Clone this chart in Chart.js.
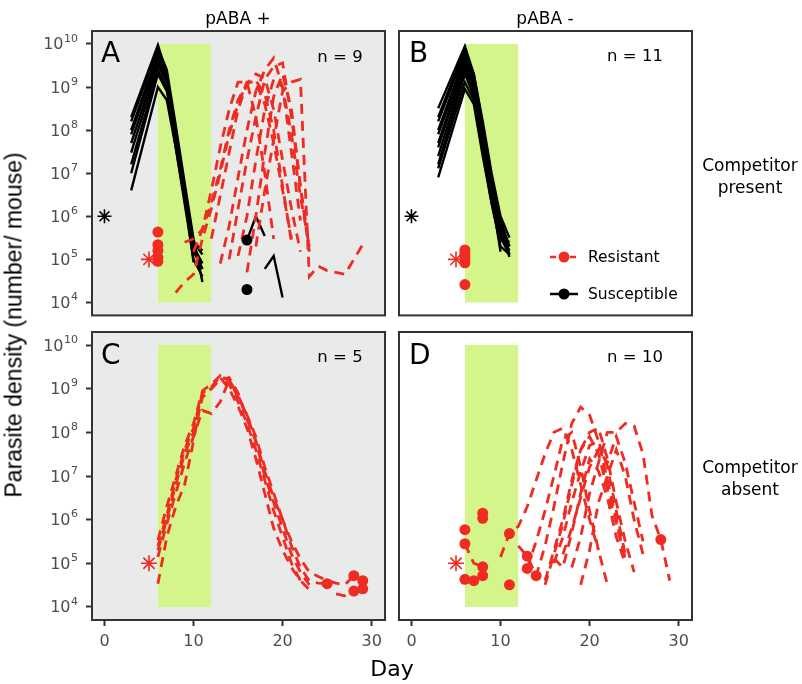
<!DOCTYPE html>
<html>
<head>
<meta charset="utf-8">
<script src="https://cdn.jsdelivr.net/npm/chart.js@4.4.1/dist/chart.umd.min.js"></script>
<style>
  body { margin: 0; background: #fff; width: 802px; height: 684px; position: relative; overflow: hidden;
         font-family: "DejaVu Sans", sans-serif; }
  canvas { position: absolute; }
  .t { position: absolute; white-space: nowrap; color: #000; line-height: 1; }
  .c { transform: translateX(-50%); text-align: center; }
</style>
</head>
<body>
<canvas id="cA" width="400" height="305" style="left:0;top:20px"></canvas>
<canvas id="cB" width="316" height="305" style="left:389px;top:20px"></canvas>
<canvas id="cC" width="400" height="340" style="left:0;top:322px"></canvas>
<canvas id="cD" width="316" height="340" style="left:389px;top:322px"></canvas>

<div class="t c" style="left:238px;top:10px;font-size:17px">pABA +</div>
<div class="t c" style="left:545px;top:10px;font-size:17px">pABA -</div>
<div class="t c" style="left:750px;top:154px;font-size:17px;line-height:22px">Competitor<br>present</div>
<div class="t c" style="left:750px;top:456px;font-size:17px;line-height:22px">Competitor<br>absent</div>
<div class="t c" style="left:392px;top:658px;font-size:22px">Day</div>
<div class="t" style="left:14px;top:325px;font-size:23px;font-family:'Liberation Sans',sans-serif;transform:translate(-50%,-50%) rotate(-90deg)">Parasite density (number/ mouse)</div>

<div class="t" style="left:101px;top:39px;font-size:28px">A</div>
<div class="t" style="left:409px;top:39px;font-size:28px">B</div>
<div class="t" style="left:101px;top:341px;font-size:28px">C</div>
<div class="t" style="left:409px;top:341px;font-size:28px">D</div>
<div class="t c" style="left:340px;top:49px;font-size:16.5px">n = 9</div>
<div class="t c" style="left:635px;top:48px;font-size:16.5px">n = 11</div>
<div class="t c" style="left:340px;top:349px;font-size:16.5px">n = 5</div>
<div class="t c" style="left:635px;top:349px;font-size:16.5px">n = 10</div>

<script>
// ---- axes ----
const xTicks = [0, 10, 20, 30];
const yTicks = [1e4, 1e5, 1e6, 1e7, 1e8, 1e9, 1e10];
const drugDays = [6, 12];          // treatment window
const drugRange = [1e4, 1e10];
const legendLabels = ['Resistant', 'Susceptible'];

// inocula (asterisks)
const inocSus = [[0, 1e6]];
const inocRes = [[5, 1e5]];

// ---- panel A : pABA +, competitor present ----
const aSusDays = [3, 6, 7, 8, 9, 10, 11];
const aSus = [
  [2e8,   9.5e9, 2e9,   1e8,   5e6,   2e5,   8e4],
  [1.6e8, 8e9,   2.5e9, 1.3e8, 6e6,   3e5,   3e4],
  [1e8,   6.3e9, 2e9,   8e7,   3e6,   8.5e4, null],
  [8e7,   5e9,   1.6e9, 6e7,   4e6,   1.6e5, 6e4],
  [5e7,   4e9,   1.6e9, 8e7,   2.5e6, 1.3e5, null],
  [3e7,   3.2e9, 1.3e9, 5e7,   3e6,   2.5e5, 1.3e5],
  [1.6e7, 2.5e9, 1e9,   4e7,   2e6,   1e5,   4e4],
  [1e7,   2e9,   8e8,   6e7,   4e6,   2.5e5, 1.6e5],
  [4e6,   1e9,   5e8,   4e7,   2.5e6, 1.6e5, 6e4]
];
const aSusLate = [
  [16, [2.8e5, 1e6, 3.5e5]],
  [18, [6e4, 1.2e5, 1.3e4]]
];
const aSusDots = [[16, 2.8e5], [16, 2e4]];
const aRes = [
  [8,  [1.7e4, 3e4, 4.5e4, 3e5, 1.5e6, 1e7, 8e7, 4e8, 1.3e9, 1.3e9, 4e8, 5e7, 4e6, 3e5]],
  [9,  [2.5e5, 3e5, 5e5, 2e6, 1.2e7, 1e8, 5e8, 1.2e9, 2e9, 1.6e9, 3e8, 2e7, 1.5e6, 1.5e5]],
  [13, [8e4, 6e5, 8e6, 1e8, 8e8, 2.5e9, 4.7e9, 1e9, 3e7, 8e5]],
  [14, [1e5, 1.5e6, 2e7, 2e8, 1.5e9, 3e9, 3.6e9, 2e8, 5e6, 2e5]],
  [12, [3e5, 3e6, 3e7, 3e8, 1.2e9, 1.4e9, 7e8, 1e8, 5e6, 2.5e5]],
  [15, [1.2e5, 1e6, 2e7, 3e8, 1.5e9, 1e9, 8e7, 3e6, 2e5]],
  [17, [2e5, 4e6, 6e7, 8e8, 1.3e9, 1.5e9, 4e4, 7e4, 5.5e4, 5e4, 4.5e4, 1e5, 2.2e5]],
  [10, [1.5e5, 5e5, 4e6, 4e7, 3e8, 1.3e9, 1.3e9, 2e8, 1e7, 3e5]],
  [16, [5e4, 1e6, 3e7, 6e8, 2e9, 3e8, 5e6, 1.5e5]]
];
const aResDots = [[6, 4.3e5], [6, 2.2e5], [6, 1.6e5], [6, 1.1e5], [6, 9e4]];

// ---- panel B : pABA -, competitor present ----
const bSusDays = [3, 6, 7, 8, 9, 10, 11];
const bSus = [
  [3.2e8, 8.9e9, 2e9,   1.6e8, 1e7,   1e6,   3.2e5],
  [2e8,   8e9,   1.6e9, 1e8,   8e6,   8e5,   2e5],
  [1.6e8, 6.3e9, 2e9,   1.3e8, 6.3e6, 6.3e5, 1.3e5],
  [1e8,   5e9,   1.3e9, 8e7,   5e6,   5e5,   1.15e5],
  [8e7,   4e9,   1e9,   6.3e7, 4e6,   4e5,   1.6e5],
  [5e7,   3.5e9, 1e9,   5e7,   3.2e6, 1.5e5, null],
  [4e7,   3.2e9, 8e8,   5e7,   4e6,   5e5,   2e5],
  [2.5e7, 2.5e9, 6.3e8, 4e7,   2.5e6, 3.2e5, 1.3e5],
  [1.6e7, 2e9,   6.3e8, 3.2e7, 2e6,   2.5e5, null],
  [1.3e7, 1.3e9, 5e8,   4e7,   3.2e6, 4e5,   2.5e5],
  [8e6,   9e8,   4e8,   2.5e7, 2e6,   2e5,   1.3e5]
];
const bResDots = [[6, 1.65e5], [6, 1.4e5], [6, 1.2e5], [6, 1e5], [6, 8.3e4], [6, 2.6e4]];

// ---- panel C : pABA +, competitor absent ----
const cRes = [
  [6, [3.4e5, 2e6, 1e7, 5e7, 1.6e8, 9e8, 1.26e9, 2e9, 1.26e9, 5e8, 1.6e8, 4e7, 8e6, 1.6e6, 4e5, 1e5, 4e4]],
  [6, [2e5, 1e6, 6.3e6, 3.2e7, 1e8, 6.3e8, 1e9, 1.6e9, 1.8e9, 8e8, 2e8, 6.3e7, 1e7, 2.5e6, 6.3e5, 1.6e5, 6.3e4, 3.2e4]],
  [6, [1.4e5, 8e5, 4e6, 2e7, 8e7, 3.2e8, 2.7e8, 5e8, 1.6e9, 7e8, 2.5e8, 8e7, 1.6e7, 4e6, 1e6, 2.5e5, 8e4, 4e4, 3.5e4, 3.4e4]],
  [6, [3.4e4, 4e5, 2e6, 6.3e6, 6.3e7, 8e8, 1e9, 1.8e9, 1e9, 4e8, 1.26e8, 2.5e7, 4e6, 6.3e5, 2e5, 8e4, 4e4, 2.5e4, null, null, 2e4, 1.8e4, 2.3e4, 2.6e4]],
  [6, [2.5e5, 1.26e6, 8e6, 4e7, 1.26e8, 8e8, 1.1e9, 1.9e9, 1.6e9, 6.3e8, 2.5e8, 6.3e7, 1.26e7, 3.2e6, 1e6, 3.2e5, 1.26e5, 6.3e4, 5e4, 4e4, 3.5e4, 3.2e4, 5.2e4, 4e4]]
];
const cResDots = [[25, 3.4e4], [28, 5.2e4], [28, 2.3e4], [29, 4e4], [29, 2.6e4]];

// ---- panel D : pABA -, competitor absent ----
const dRes = [
  [10, [1.4e5, 4.8e5, 7e5, 2e6, 8e6, 3.2e7, 1e8, 1.26e8, 4e7, 6.3e6, 1e6, 2e5]],
  [12, [2.5e5, 1.45e5, 5.2e4, 2.5e5, 2e6, 2e7, 1.6e8, 3.8e8, 2.5e8, 6.3e7, 8e6, 1e6, 1.26e5]],
  [6,  [4.3e4, 4e4, 5.2e4, null, null, null, null, null, null, 3.2e4, 1.6e5, 8e5, 6.3e6, 4e7, 8e7, 3.2e7, 5e6, 8e5, 1.26e5]],
  [6,  [2.8e5, 1e5, 8.3e4, null, null, null, null, 7.6e4, 3.2e5, 1.6e6, 1e7, 7e7, 1e8, 1.6e7, 1.6e6, 2e5, 3.2e4]],
  [15, [4e4, 2e5, 1e6, 8e6, 4e7, 1e8, 1.26e8, 2.5e7, 2.5e6, 3.2e5, 6.3e4]],
  [16, [1e5, 4e5, 2.5e6, 1.26e7, 5e7, 6.3e7, 1.6e7, 1.6e6, 1.6e5]],
  [17, [1.6e5, 6.3e5, 3.2e6, 1.6e7, 4e7, 2e7, 8e7, 2e7, 2.5e6, 3.2e5]],
  [18, [8e4, 4e5, 4e6, 2e7, 1e8, 1e8, 1.6e8, 1.4e8, 3.2e7, 1.26e6, 3.5e5, 4e4]],
  [19, [3.2e4, 2e5, 2.5e6, 1e7, 4e7, 1e7, 1e6, 1.6e5]],
  [16, [1.3e5, 8e4, 5e5, 4e6, 2.5e7, 1.3e7, 3.2e6, 4e5, 1e5]]
];
const dResDots = [[6, 5.9e5], [6, 2.8e5], [6, 4.3e4], [7, 4e4], [8, 1.4e6], [8, 1.07e6], [8, 8.3e4], [8, 5.2e4],
                  [11, 4.8e5], [11, 3.2e4], [13, 1.45e5], [13, 7.6e4], [14, 5.2e4], [28, 3.5e5]];

// ---- styles ----
const RED = '#ef2b22';
const GREEN = '#d4f58b';
const GREY_BG = '#e9eaea';
const FONT = '"DejaVu Sans"';

// ---- helpers ----
const seq = (start, vals) => vals.map((v, i) => ({ x: start + i, y: v }));
const onDays = (days, vals) => vals.map((v, i) => ({ x: days[i], y: v }));
const pts = arr => arr.map(([x, y]) => ({ x, y }));

const band = () => ({
  data: drugDays.map(d => ({ x: d, y: drugRange[1] })),
  fill: { value: drugRange[0] }, backgroundColor: GREEN, borderWidth: 0, pointRadius: 0, order: 10
});
const resLine = data => ({ data, borderColor: RED, borderWidth: 2.8, borderDash: [10, 7], pointRadius: 0, fill: false, order: 2 });
const susLine = data => ({ data, borderColor: '#000', borderWidth: 2.4, pointRadius: 0, fill: false, order: 3 });
const dots = (data, color) => ({ data, showLine: false, pointRadius: 5.5, pointBackgroundColor: color, pointBorderWidth: 0, order: 1 });
const star = (data, color, r) => ({ data, showLine: false, pointStyle: 'star', pointRadius: r,
  pointBorderColor: color, pointBorderWidth: 1.6, order: 1 });

// background, frame, y labels with exponents, legend
const panelPlugin = {
  id: 'panel',
  beforeDraw(chart, args, o) {
    const a = chart.chartArea, ctx = chart.ctx;
    ctx.save();
    ctx.fillStyle = o.bg;
    ctx.fillRect(a.left, a.top, a.right - a.left, a.bottom - a.top);
    ctx.restore();
  },
  afterDraw(chart, args, o) {
    const a = chart.chartArea, ctx = chart.ctx;
    ctx.save();
    ctx.strokeStyle = '#333';
    ctx.lineWidth = 2;
    ctx.strokeRect(a.left, a.top, a.right - a.left, a.bottom - a.top);

    if (o.yLabels) {
      const ys = chart.scales.y;
      ctx.fillStyle = '#4d4d4d';
      ctx.textAlign = 'left';
      ctx.textBaseline = 'alphabetic';
      yTicks.forEach(v => {
        const y = ys.getPixelForValue(v);
        const e = String(Math.round(Math.log10(v)));
        ctx.font = '11px ' + FONT;
        const we = ctx.measureText(e).width;
        ctx.font = '16px ' + FONT;
        const wb = ctx.measureText('10').width;
        const right = a.left - 14;
        ctx.fillText('10', right - we - wb - 0.5, y + 5.5);
        ctx.font = '11px ' + FONT;
        ctx.fillText(e, right - we, y - 2.3);
      });
    }

    if (o.legend) {
      const styles = [{ c: RED, dash: [6, 4] }, { c: '#000', dash: [] }];
      legendLabels.forEach((lab, i) => {
        const y = a.top + 226 + i * 37;
        const x0 = a.left + 151, x1 = a.left + 179;
        ctx.strokeStyle = styles[i].c;
        ctx.lineWidth = 2.5;
        ctx.setLineDash(styles[i].dash);
        ctx.beginPath(); ctx.moveTo(x0, y); ctx.lineTo(x1, y); ctx.stroke();
        ctx.setLineDash([]);
        ctx.fillStyle = styles[i].c;
        ctx.beginPath(); ctx.arc((x0 + x1) / 2, y, 5.5, 0, Math.PI * 2); ctx.fill();
        ctx.fillStyle = '#000';
        ctx.font = '15.5px ' + FONT;
        ctx.textBaseline = 'middle';
        ctx.fillText(lab, a.left + 189, y + 1);
      });
    }
    ctx.restore();
  }
};
Chart.register(panelPlugin);

function makeChart(id, o) {
  return new Chart(document.getElementById(id), {
    type: 'line',
    data: { datasets: o.datasets },
    options: {
      responsive: false,
      animation: false,
      events: [],
      layout: { padding: o.pad },
      plugins: {
        legend: { display: false },
        tooltip: { enabled: false },
        panel: { bg: o.bg, yLabels: o.yAxis, legend: !!o.legend }
      },
      scales: {
        x: {
          type: 'linear', min: -1.4, max: 31.5, display: o.xAxis,
          afterBuildTicks: s => { s.ticks = xTicks.map(v => ({ value: v })); },
          afterFit: s => { s.height = o.xAxis ? 42 : 0; },
          grid: { drawOnChartArea: false, drawTicks: true, tickLength: 6, tickWidth: 2, tickColor: '#333' },
          border: { display: false },
          ticks: { font: { family: 'DejaVu Sans', size: 16 }, color: '#4d4d4d', padding: 6, maxRotation: 0, autoSkip: false }
        },
        y: {
          type: 'logarithmic', min: Math.pow(10, 3.7), max: Math.pow(10, 10.3), display: o.yAxis,
          afterBuildTicks: s => { s.ticks = yTicks.map(v => ({ value: v })); },
          afterFit: s => { s.width = o.yAxis ? 92 : 0; },
          grid: { drawOnChartArea: false, drawTicks: true, tickLength: 6, tickWidth: 2, tickColor: '#333' },
          border: { display: false },
          ticks: { display: false }
        }
      }
    }
  });
}

makeChart('cA', {
  bg: GREY_BG, xAxis: false, yAxis: true, pad: { left: 0, top: 11, right: 15, bottom: 7 },
  datasets: [
    band(),
    ...aSus.map(v => susLine(onDays(aSusDays, v))),
    ...aSusLate.map(([s, v]) => susLine(seq(s, v))),
    ...aRes.map(([s, v]) => resLine(seq(s, v))),
    dots(pts(aSusDots), '#000'),
    dots(pts(aResDots), RED),
    star(pts(inocSus), '#000', 7),
    star(pts(inocRes), RED, 8)
  ]
});

makeChart('cB', {
  bg: '#ffffff', xAxis: false, yAxis: false, legend: true, pad: { left: 10, top: 11, right: 13, bottom: 7 },
  datasets: [
    band(),
    ...bSus.map(v => susLine(onDays(bSusDays, v))),
    dots(pts(bResDots), RED),
    star(pts(inocSus), '#000', 7),
    star(pts(inocRes), RED, 8)
  ]
});

makeChart('cC', {
  bg: GREY_BG, xAxis: true, yAxis: true, pad: { left: 0, top: 10, right: 15, bottom: 0 },
  datasets: [
    band(),
    ...cRes.map(([s, v]) => resLine(seq(s, v))),
    dots(pts(cResDots), RED),
    star(pts(inocRes), RED, 8)
  ]
});

makeChart('cD', {
  bg: '#ffffff', xAxis: true, yAxis: false, pad: { left: 10, top: 10, right: 13, bottom: 0 },
  datasets: [
    band(),
    ...dRes.map(([s, v]) => resLine(seq(s, v))),
    dots(pts(dResDots), RED),
    star(pts(inocRes), RED, 8)
  ]
});
</script>
</body>
</html>
